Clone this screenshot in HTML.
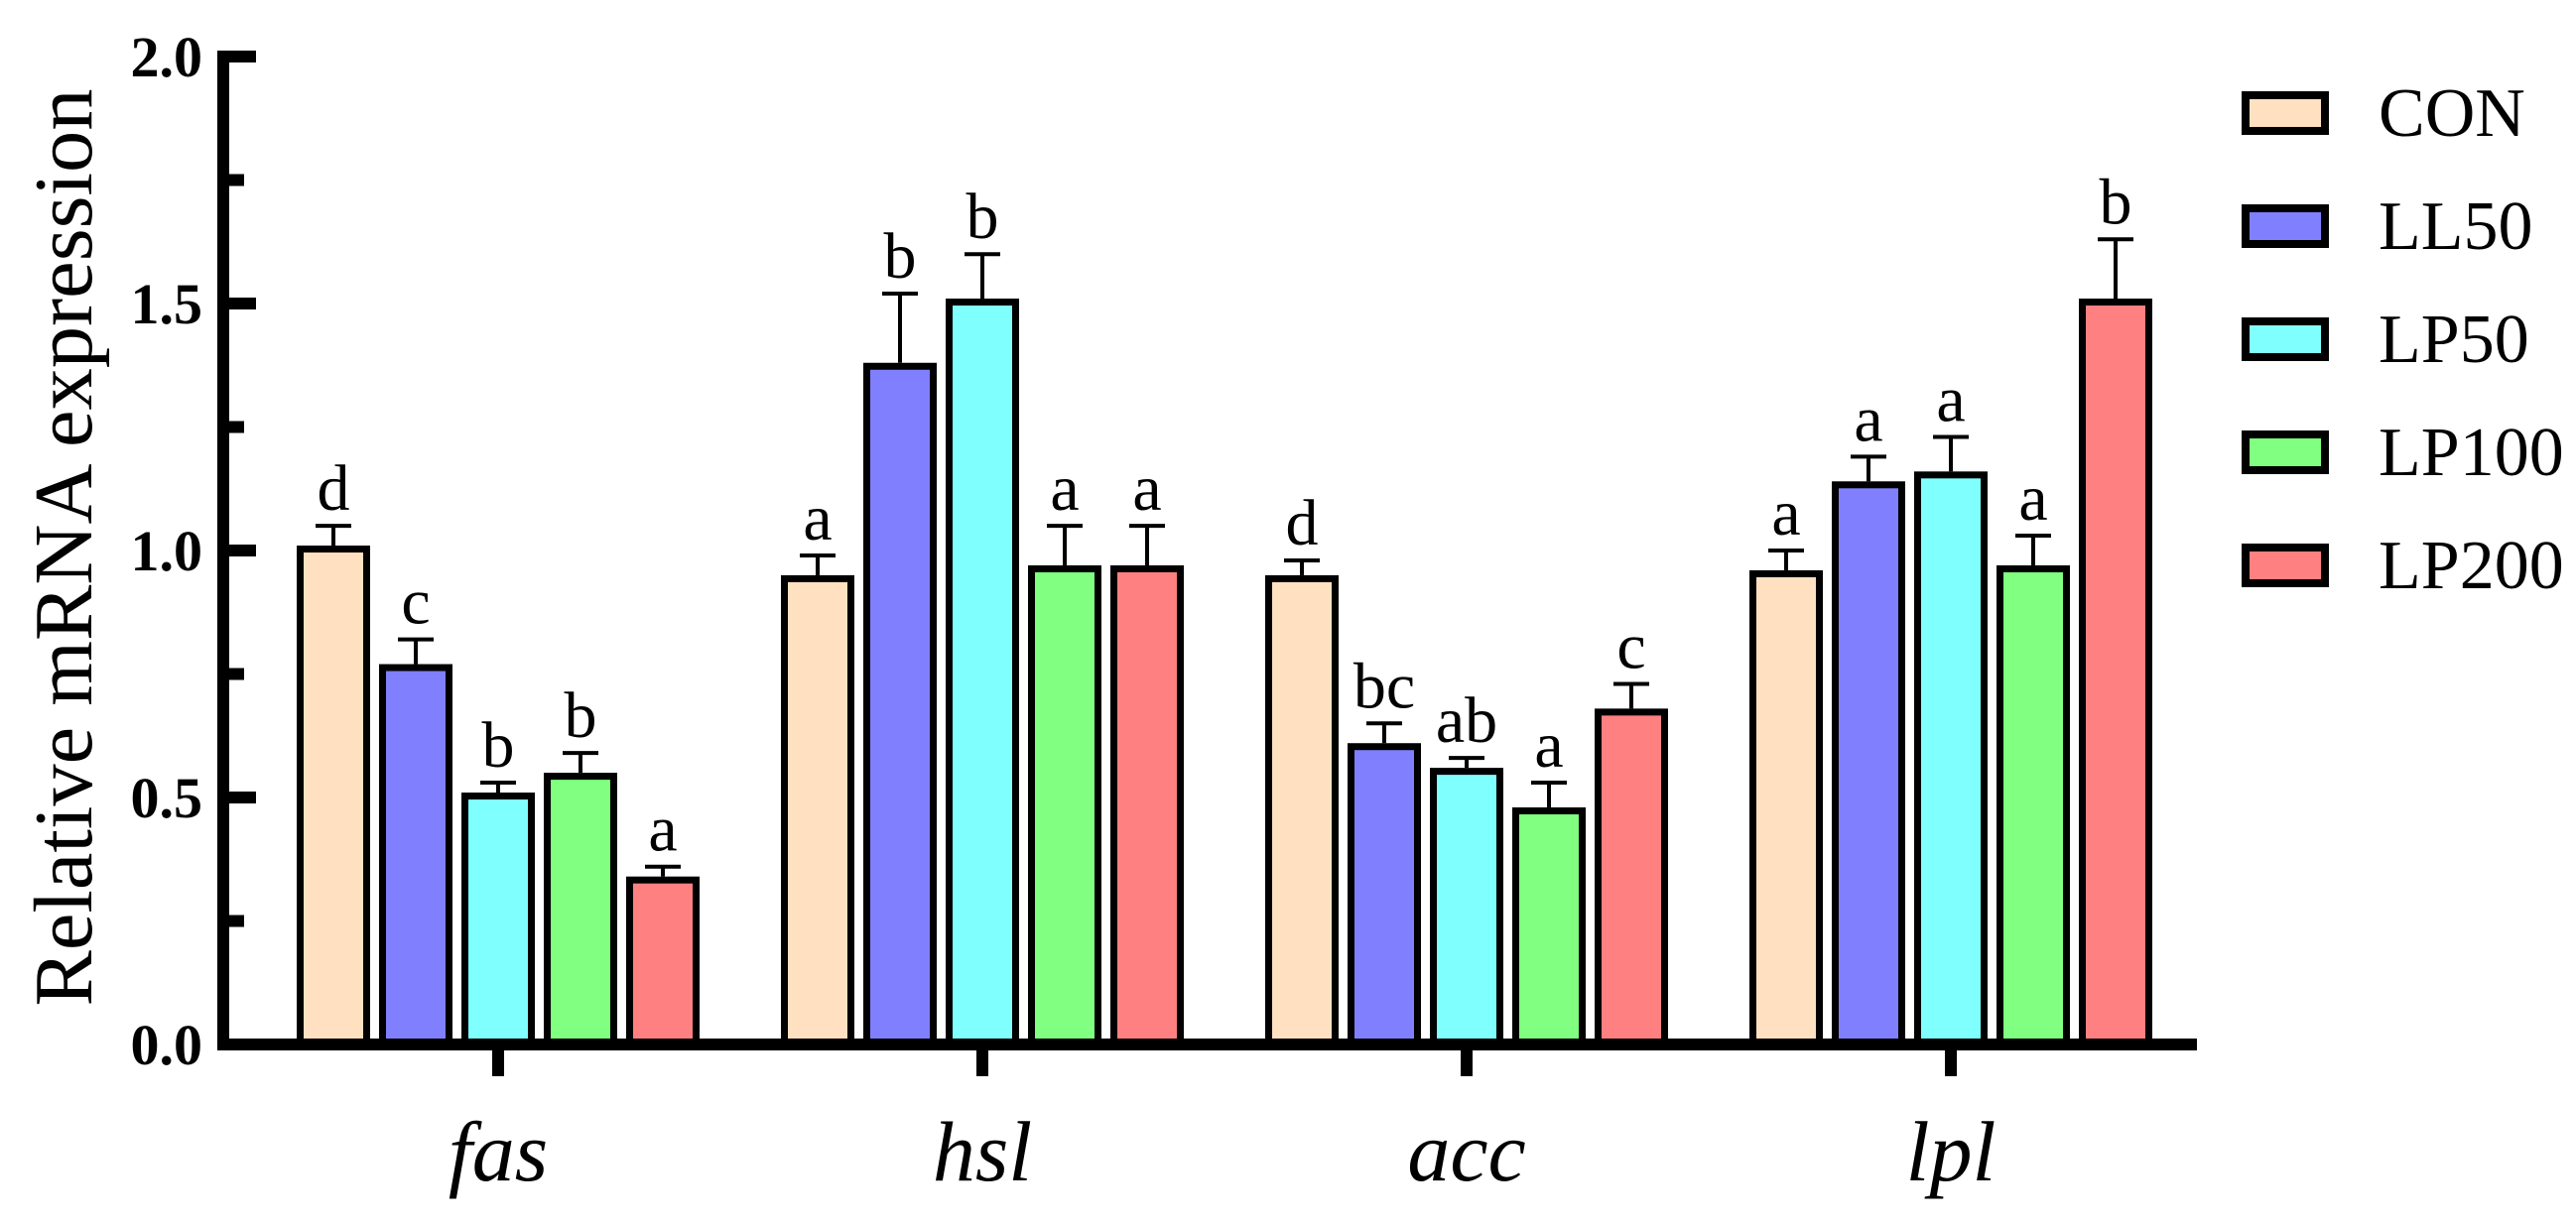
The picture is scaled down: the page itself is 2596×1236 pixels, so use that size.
<!DOCTYPE html>
<html><head><meta charset="utf-8"><style>
html,body{margin:0;padding:0;background:#fff;}
svg{display:block;}
text{font-family:"Liberation Serif","Times New Roman",serif;fill:#000;}
</style></head><body>
<svg id="chart" width="2596" height="1236" viewBox="0 0 2596 1236" xmlns="http://www.w3.org/2000/svg">
<g id="plot" font-family="Liberation Serif, Times New Roman, serif"></g>
</svg>
<script>
const categories = ["fas","hsl","acc","lpl"];
const groups = ["CON","LL50","LP50","LP100","LP200"];
const colors = ["#FFE0C0","#8080FF","#80FFFF","#80FF80","#FF8080"];
const valCON   = [1.01, 0.95, 0.95, 0.96];
const valLL50  = [0.77, 1.38, 0.61, 1.14];
const valLP50  = [0.51, 1.51, 0.56, 1.16];
const valLP100 = [0.55, 0.97, 0.48, 0.97];
const valLP200 = [0.34, 0.97, 0.68, 1.51];
const errCON   = [0.04, 0.04, 0.03, 0.04];
const errLL50  = [0.05, 0.14, 0.04, 0.05];
const errLP50  = [0.02, 0.09, 0.02, 0.07];
const errLP100 = [0.04, 0.08, 0.05, 0.06];
const errLP200 = [0.02, 0.08, 0.05, 0.12];
const sigCON   = ["d","a","d","a"];
const sigLL50  = ["c","b","bc","a"];
const sigLP50  = ["b","b","ab","a"];
const sigLP100 = ["b","a","a","a"];
const sigLP200 = ["a","a","c","b"];
const yTicks = [0,0.5,1.0,1.5,2.0];
const yTickLabels = ["0.0","0.5","1.0","1.5","2.0"];
const yMinorTicks = [0.25,0.75,1.25,1.75];

const values=[valCON,valLL50,valLP50,valLP100,valLP200];
const errs=[errCON,errLL50,errLP50,errLP100,errLP200];
const sigs=[sigCON,sigLL50,sigLP50,sigLP100,sigLP200];

const NS="http://www.w3.org/2000/svg";
const FF="Liberation Serif, Times New Roman, serif";
const g=document.getElementById('plot');
const y0=1053, y2=57;
function yScale(v){return y0-(v/2)*(y0-y2);}
const xAxisL=219, xAxisR=2214;
function xCenter(ci){return 502+ci*488;}
const step=83, barW=74;
function mk(tag,attrs,parent){const e=document.createElementNS(NS,tag);for(const k in attrs)e.setAttribute(k,attrs[k]);if(tag==='text')e.setAttribute('font-family',FF);(parent||g).appendChild(e);return e;}

for(let ci=0;ci<categories.length;ci++){
  for(let gi=0;gi<groups.length;gi++){
    const cx=xCenter(ci)+(gi-2)*step;
    const v=values[gi][ci], e=errs[gi][ci];
    const top=yScale(v);
    const et=yScale(v+e);
    const line=mk('line',{x1:cx,x2:cx,y1:top,y2:et,stroke:'#000','stroke-width':4});
    
    
    const cap=mk('line',{x1:cx-18,x2:cx+18,y1:et,y2:et,stroke:'#000','stroke-width':4});
    
    
    const r=mk('rect',{x:cx-barW/2+3.5,y:top+3.5,width:barW-7,height:y0-top-3.5,fill:colors[gi],stroke:'#000','stroke-width':7});
    
    
    const t=mk('text',{x:cx,y:et-16,'text-anchor':'middle','font-size':66});
    t.textContent=sigs[gi][ci];
    
    
  }
}
const ya=mk('line',{x1:225,x2:225,y1:y2-6,y2:y0+6,stroke:'#000','stroke-width':12});


const xa=mk('line',{x1:xAxisL,x2:xAxisR,y1:y0,y2:y0,stroke:'#000','stroke-width':12});


yTicks.forEach((v,i)=>{
  const y=yScale(v);
  const tk=mk('line',{x1:225,x2:258,y1:y,y2:y,stroke:'#000','stroke-width':12});
  
  
  const t=mk('text',{x:204,y:y+20,'text-anchor':'end','font-size':58,'font-weight':'bold'});
  t.textContent=yTickLabels[i];
  
  
});
yMinorTicks.forEach(v=>{
  const y=yScale(v);
  const tk=mk('line',{x1:225,x2:246,y1:y,y2:y,stroke:'#000','stroke-width':12});
  
  
});
categories.forEach((c,ci)=>{
  const x=xCenter(ci);
  const tk=mk('line',{x1:x,x2:x,y1:y0,y2:y0+32,stroke:'#000','stroke-width':12});
  
  
  const t=mk('text',{x:x,y:1190,'text-anchor':'middle','font-size':86,'font-style':'italic'});
  t.textContent=c;
  
  
});
const yt=mk('text',{x:0,y:0,'text-anchor':'middle','font-size':84,transform:'translate(92,552) rotate(-90)',textLength:925,lengthAdjust:'spacingAndGlyphs'});
yt.textContent='Relative mRNA expression';


groups.forEach((gname,gi)=>{
  const y=92+gi*114;
  const r=mk('rect',{x:2263,y:y+4,width:80,height:36,fill:colors[gi],stroke:'#000','stroke-width':8});
  
  
  const t=mk('text',{x:2397,y:y+45,'font-size':70});
  t.textContent=gname;
  
  
});
</script>
</body></html>
